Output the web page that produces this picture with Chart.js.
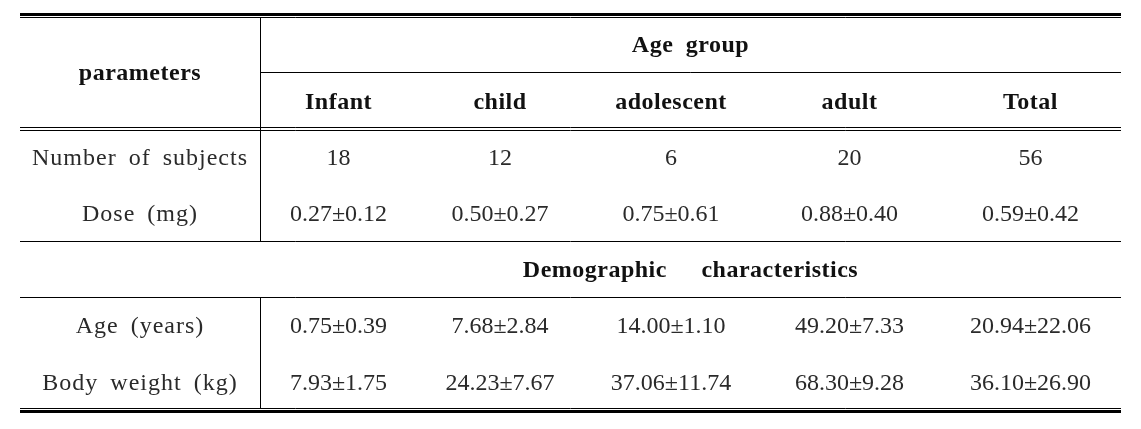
<!DOCTYPE html>
<html>
<head>
<meta charset="utf-8">
<script src="https://cdn.jsdelivr.net/npm/chart.js@4.4.1/dist/chart.umd.min.js"></script>
<style>
  html, body { margin: 0; padding: 0; background: #fff; }
</style>
</head>
<body>
<canvas id="myChart" width="1141" height="429"></canvas>
<script>
// table data
var groups = ['Infant', 'child', 'adolescent', 'adult', 'Total'];
var subjects = [18, 12, 6, 20, 56];
var doseMean = [0.27, 0.50, 0.75, 0.88, 0.59];
var doseSd = [0.12, 0.27, 0.61, 0.40, 0.42];
var ageMean = [0.75, 7.68, 14.00, 49.20, 20.94];
var ageSd = [0.39, 2.84, 1.10, 7.33, 22.06];
var weightMean = [7.93, 24.23, 37.06, 68.30, 36.10];
var weightSd = [1.75, 7.67, 11.74, 9.28, 26.90];
var rowLabels = ['Number of subjects', 'Dose (mg)', 'Age (years)', 'Body weight (kg)'];
var headParam = 'parameters';
var headGroup = 'Age group';
var headDemo = 'Demographic characteristics';

// layout: relative column widths, row keys for the y scale
var colWidths = [240, 157, 166, 176, 181, 181];
var rowKeys = ['head1', 'head2', 'subjects', 'dose', 'demo', 'age', 'weight'];

var edges = [0];
colWidths.forEach(function (w, i) { edges.push(edges[i] + w); });

function fmt(m, s) {
    return m.toFixed(2) + '±' + s.toFixed(2);
}

var tablePlugin = {
    id: 'table',
    afterDraw: function (chart) {
        var ctx = chart.ctx;
        var xs = chart.scales.x;
        var ys = chart.scales.y;
        var step = Math.abs(ys.getPixelForValue(1) - ys.getPixelForValue(0));
        var colEdge = function (i) { return xs.getPixelForValue(edges[i]); };
        var colMid = function (i) { return xs.getPixelForValue((edges[i] + edges[i + 1]) / 2); };
        var spanMid = xs.getPixelForValue((edges[1] + edges[edges.length - 1]) / 2);
        var rowMid = function (r) { return ys.getPixelForValue(r); };
        var rowTop = function (r) { return rowMid(r) - step / 2; };
        var left = colEdge(0), right = colEdge(edges.length - 1);

        ctx.save();
        ctx.strokeStyle = '#000';

        function hline(y, x0, x1, w) {
            ctx.lineWidth = w;
            ctx.beginPath();
            ctx.moveTo(x0, y);
            ctx.lineTo(x1, y);
            ctx.stroke();
        }
        function vline(x, y0, y1) {
            ctx.lineWidth = 1;
            ctx.beginPath();
            ctx.moveTo(x, y0);
            ctx.lineTo(x, y1);
            ctx.stroke();
        }

        var top = Math.round(rowTop(0));
        var bottom = Math.round(rowTop(rowKeys.length));
        var divX = Math.round(colEdge(1)) + 0.5;

        // top double rule
        hline(top - 1.5, left, right, 3);
        hline(top + 1.5, left, right, 1);
        // under "Age group"
        hline(Math.round(rowTop(1)) + 0.5, divX, right, 1);
        // double rule under header
        var hb = Math.round(rowTop(2));
        hline(hb - 1.5, left, right, 1);
        hline(hb + 1.5, left, right, 1);
        // around demographic row
        hline(Math.round(rowTop(4)) + 0.5, left, right, 1);
        hline(Math.round(rowTop(5)) + 0.5, left, right, 1);
        // bottom double rule
        hline(bottom - 1.5, left, right, 1);
        hline(bottom + 1.5, left, right, 3);
        // vertical divider
        vline(divX, top + 1, Math.round(rowTop(4)) + 0.5);
        vline(divX, Math.round(rowTop(5)) + 0.5, bottom - 1);

        ctx.textAlign = 'center';
        ctx.textBaseline = 'middle';

        // header text
        var hdy = 2, ddy = 1.5;
        ctx.fillStyle = '#111';
        ctx.font = 'bold 24px "Liberation Serif"';
        ctx.letterSpacing = '0.5px';
        ctx.wordSpacing = '6px';
        ctx.fillText(headParam, colMid(0), (rowMid(0) + rowMid(1)) / 2 + hdy);
        ctx.fillText(headGroup, spanMid, rowMid(0) + hdy);
        groups.forEach(function (g, i) {
            ctx.fillText(g, colMid(i + 1), rowMid(1) + hdy);
        });
        ctx.wordSpacing = '28px';
        ctx.fillText(headDemo, spanMid, rowMid(4) + hdy);

        // row labels
        ctx.fillStyle = '#2a2a2a';
        ctx.font = '24px "Liberation Serif"';
        ctx.letterSpacing = '1px';
        ctx.wordSpacing = '5px';
        var labelRows = [2, 3, 5, 6];
        rowLabels.forEach(function (lab, i) {
            ctx.fillText(lab, colMid(0), rowMid(labelRows[i]) + ddy);
        });

        // cell values
        ctx.letterSpacing = '0px';
        ctx.wordSpacing = '0px';
        groups.forEach(function (g, i) {
            var cx = colMid(i + 1);
            ctx.fillText(String(subjects[i]), cx, rowMid(2) + ddy);
            ctx.fillText(fmt(doseMean[i], doseSd[i]), cx, rowMid(3) + ddy);
            ctx.fillText(fmt(ageMean[i], ageSd[i]), cx, rowMid(5) + ddy);
            ctx.fillText(fmt(weightMean[i], weightSd[i]), cx, rowMid(6) + ddy);
        });
        ctx.restore();
    }
};

var ctx = document.getElementById('myChart').getContext('2d');
var chart = new Chart(ctx, {
    type: 'scatter',
    data: { datasets: [] },
    options: {
        responsive: false,
        animation: false,
        layout: { padding: { left: 20, right: 20, top: 16, bottom: 19 } },
        plugins: { legend: { display: false }, tooltip: { enabled: false } },
        scales: {
            x: { type: 'linear', display: false, min: 0, max: edges[edges.length - 1] },
            y: { type: 'category', display: false, labels: rowKeys, offset: true }
        }
    },
    plugins: [tablePlugin]
});
</script>
</body>
</html>
